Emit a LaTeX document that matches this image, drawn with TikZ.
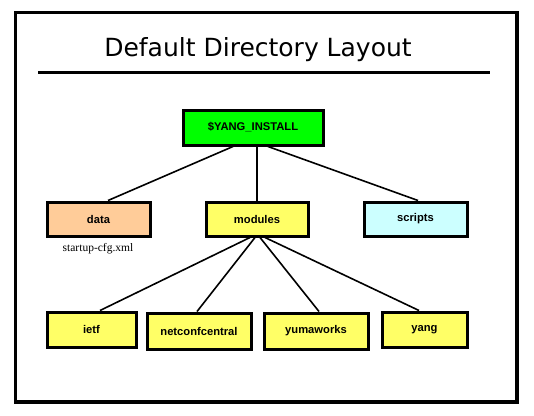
\documentclass[tikz,border=0pt]{standalone}
\usepackage{fontspec}
\setmainfont{Liberation Serif}
\newfontfamily\titlefont{DejaVu Sans}
\newfontfamily\boxfont{Liberation Sans}
\definecolor{topgreen}{HTML}{00FF00}
\definecolor{dataorange}{HTML}{FFCC99}
\definecolor{modyellow}{HTML}{FFFF66}
\definecolor{scriptcyan}{HTML}{CCFFFF}
\begin{document}
\begin{tikzpicture}[x=1pt,y=-1pt,
  dirbox/.style={draw=black, line width=3pt, inner sep=0pt, rectangle,
    font=\boxfont\bfseries\fontsize{11.2}{13}\selectfont},
  link/.style={draw=black, line width=1.6pt}]
\useasboundingbox (0,0) rectangle (534,415);
% frame
\draw[line width=3.5pt] (15.5,12.5) rectangle (517,402);
\node[anchor=base, font=\titlefont\fontsize{25}{30}\selectfont] (title) at (258,56) {Default Directory Layout};
\draw[line width=3pt] (38,72) -- (490,72);
% nodes
\node[dirbox, fill=topgreen, minimum width=140pt, minimum height=35pt] (top) at (253,127.5) {\$YANG\_INSTALL};
\node[dirbox, fill=dataorange, minimum width=103pt, minimum height=34pt] (data) at (98.5,219) {data};
\node[dirbox, fill=modyellow, minimum width=102pt, minimum height=34pt] (modules) at (257,219) {modules};
\node[dirbox, fill=scriptcyan, minimum width=103pt, minimum height=34pt] (scripts) at (415.5,219) {scripts};
\node[font=\fontsize{11.5}{13}\selectfont] (cfg) at (98,249) {startup-cfg.xml};
\node[dirbox, fill=modyellow, minimum width=89pt, minimum height=35pt] (ietf) at (91.5,329.5) {ietf};
\node[dirbox, fill=modyellow, minimum width=104pt, minimum height=36pt] (netconf) at (199,331) {netconfcentral};
\node[dirbox, fill=modyellow, minimum width=104pt, minimum height=36pt] (yuma) at (316,331) {yumaworks};
\node[dirbox, fill=modyellow, minimum width=85pt, minimum height=35pt] (yang) at (424.5,329.5) {yang};
% connectors
\draw[link] ([xshift=-20pt]top.south) -- ([xshift=9.5pt]data.north);
\draw[link] ([xshift=4pt]top.south) -- (modules.north);
\draw[link] ([xshift=15pt]top.south) -- ([xshift=2.5pt]scripts.north);
\draw[link] ([xshift=-7pt]modules.south) -- ([xshift=8.5pt]ietf.north);
\draw[link] ([xshift=-2pt]modules.south) -- ([xshift=-2pt]netconf.north);
\draw[link] ([xshift=3pt]modules.south) -- ([xshift=3pt]yuma.north);
\draw[link] ([xshift=8pt]modules.south) -- ([xshift=-5.5pt]yang.north);
\end{tikzpicture}
\end{document}
